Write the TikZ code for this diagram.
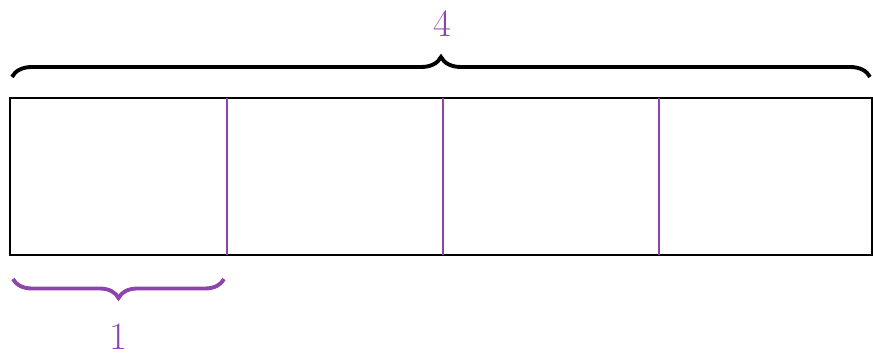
\documentclass[tikz,border=0pt]{standalone}
\usetikzlibrary{decorations.pathreplacing}
\definecolor{barpurple}{RGB}{142,68,173}
\begin{document}
\begin{tikzpicture}[x=0.02cm, y=-0.02cm, line width=1.4pt]
  \useasboundingbox (0,0) rectangle (873,357);
  \draw (10,98) rectangle (872,255);
  \foreach \x in {227,443,659}
    \draw[barpurple] (\x,98) -- (\x,255);
  \draw[line width=2.2pt, decorate, decoration={brace, amplitude=0.4cm}]
    (12,77) -- (870,77);
  \draw[barpurple, line width=2.2pt, decorate, decoration={brace, mirror, amplitude=0.38cm}]
    (13,279) -- (224,279);
  \node[barpurple, font=\fontsize{22}{26}\selectfont] (whole) at (442,24) {4};
  \node[barpurple, font=\fontsize{22}{26}\selectfont] (part) at (118,337) {1};
\end{tikzpicture}
\end{document}
